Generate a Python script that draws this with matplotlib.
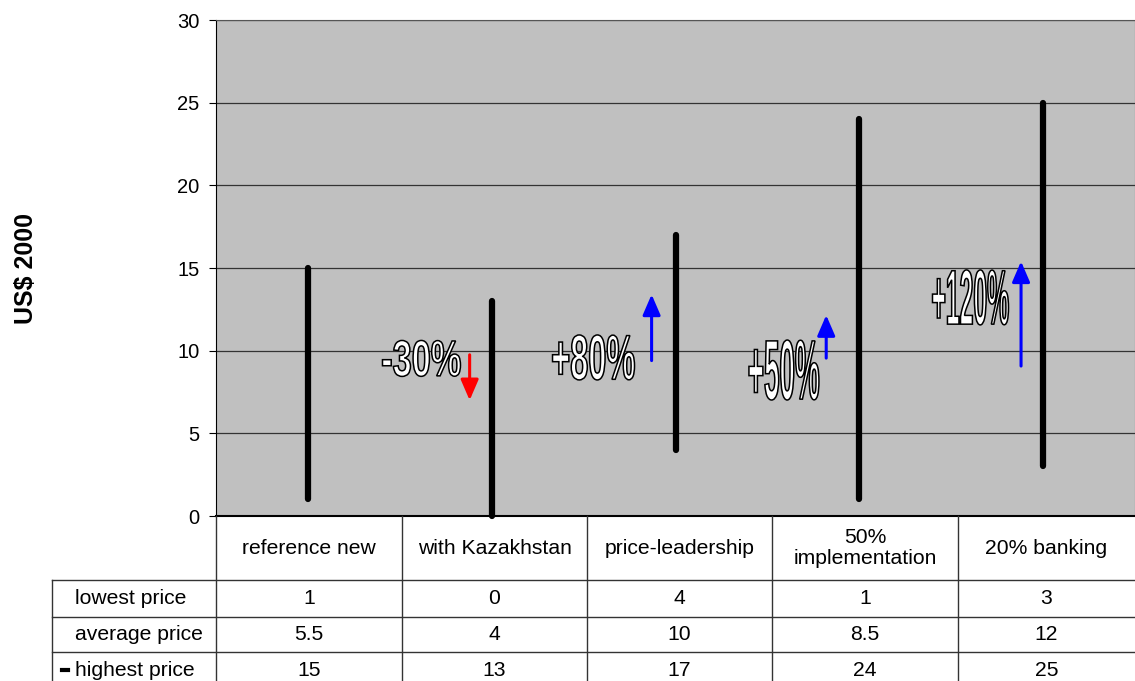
import matplotlib
matplotlib.use("Agg")
import matplotlib.pyplot as plt
from matplotlib.lines import Line2D
from matplotlib.textpath import TextPath
from matplotlib.patches import PathPatch
from matplotlib.font_manager import FontProperties
from matplotlib.transforms import Affine2D, IdentityTransform

categories = ["reference new", "with Kazakhstan", "price-leadership",
              "50%\nimplementation", "20% banking"]
lowest = [1, 0, 4, 1, 3]
average = [5.5, 4, 10, 8.5, 12]
highest = [15, 13, 17, 24, 25]
avg_labels = ["5.5", "4", "10", "8.5", "12"]

# change labels and arrows (x in category units, y in US$)
change_text = ["-30%", "+80%", "+50%", "+120%"]
change_x = [1.118, 2.054, 3.09, 4.105]
change_y = [9.53, 9.59, 8.83, 13.22]
change_w = [78, 82, 70, 76]      # label box width, px
change_h = [36, 45, 60, 55]      # label box height, px
arrow_x = [1.38, 2.37, 3.32, 4.38]
arrow_from = [9.75, 9.4, 9.55, 9.07]
arrow_to = [7.0, 13.4, 12.15, 15.4]
arrow_col = ["#FF0000", "#0000FF", "#0000FF", "#0000FF"]

W, H = 1135, 681
plt.rcParams['font.family'] = ['Liberation Sans', 'DejaVu Sans']
fig = plt.figure(figsize=(W / 100, H / 100), dpi=100)
FS = 15.2

x0, x1, y0, y1 = 216, 1135, 20, 516
ax = fig.add_axes([x0 / W, 1 - y1 / H, (x1 - x0) / W, (y1 - y0) / H])
ax.set_facecolor("#C0C0C0")
ax.set_xlim(0, 5)
ax.set_ylim(0, 30)
ax.set_yticks(range(0, 31, 5))
ax.set_xticks([])
ax.grid(axis="y", color="#333333", linewidth=0.9)
ax.set_axisbelow(True)
ax.tick_params(axis="y", direction="out", length=5, labelsize=14.5, pad=7)
for s in ["top", "right"]:
    ax.spines[s].set_color("#555555")
ax.spines["left"].set_color("black")
ax.spines["bottom"].set_color("black")
ax.spines["bottom"].set_linewidth(1.5)

for i in range(len(categories)):
    ax.plot([i + 0.5, i + 0.5], [lowest[i], highest[i]], color="black",
            linewidth=4.5, solid_capstyle="round", clip_on=False, zorder=3)

for xa, a, b, c in zip(arrow_x, arrow_from, arrow_to, arrow_col):
    ax.annotate("", xy=(xa, b), xytext=(xa, a),
                arrowprops=dict(arrowstyle="-|>,head_width=0.54,head_length=1.25",
                                color=c, linewidth=2.2, shrinkA=0, shrinkB=0,
                                mutation_scale=10),
                zorder=4)

# condensed outlined "WordArt" labels, drawn as paths in pixel space
fp = FontProperties(family="Liberation Sans", weight="bold")
for t, tx, ty, bw, bh in zip(change_text, change_x, change_y, change_w, change_h):
    tp = TextPath((0, 0), t, size=40, prop=fp)
    ext = tp.get_extents()
    cx, cy = ax.transData.transform((tx, ty))
    tr = (Affine2D()
          .translate(-(ext.x0 + ext.width / 2), -(ext.y0 + ext.height / 2))
          .scale(bw / ext.width, bh / ext.height)
          .translate(cx, cy))
    patch = PathPatch(tr.transform_path(tp), facecolor="white",
                      edgecolor="black", linewidth=1.1,
                      transform=IdentityTransform(), zorder=5)
    fig.add_artist(patch)

ax.set_ylabel("US$ 2000", fontsize=18, weight="bold", labelpad=0)
ax.yaxis.set_label_coords((38 - x0) / (x1 - x0), 0.5)

# data table under the chart, drawn in pixel coordinates
def px(x, y):
    return x / W, 1 - y / H

def hline(xa, xb, y):
    fig.add_artist(Line2D([xa / W, xb / W], [1 - y / H, 1 - y / H],
                          color="#333333", linewidth=1.0))

def vline(x, ya, yb):
    fig.add_artist(Line2D([x / W, x / W], [1 - ya / H, 1 - yb / H],
                          color="#333333", linewidth=1.0))

col_edges = [216, 402, 587, 772, 958, 1135]
row_edges = [580, 617, 652, 690]
left_edge = 52

hline(left_edge, 1135, row_edges[0])
hline(left_edge, 1135, row_edges[1])
hline(left_edge, 1135, row_edges[2])
vline(left_edge, row_edges[0], 690)
for x in col_edges[:-1]:
    vline(x, 516, 690)

for i, c in enumerate(categories):
    cx = (col_edges[i] + col_edges[i + 1]) / 2
    fig.text(*px(cx, 548), c, ha="center", va="center", fontsize=FS,
             linespacing=1.15)

row_names = ["lowest price", "average price", "highest price"]
row_vals = [[str(v) for v in lowest], avg_labels, [str(v) for v in highest]]
row_cy = [599, 635, 670]
for r in range(3):
    fig.text(*px(75, row_cy[r]), row_names[r], ha="left", va="center",
             fontsize=FS)
    for i in range(len(categories)):
        cx = (col_edges[i] + col_edges[i + 1]) / 2
        fig.text(*px(cx, row_cy[r]), row_vals[r][i], ha="center",
                 va="center", fontsize=FS)

# legend key for the high-low line
fig.add_artist(Line2D([62 / W, 68 / W], [1 - 670 / H, 1 - 670 / H],
                      color="black", linewidth=3))

fig.savefig("out.png", dpi=100)
